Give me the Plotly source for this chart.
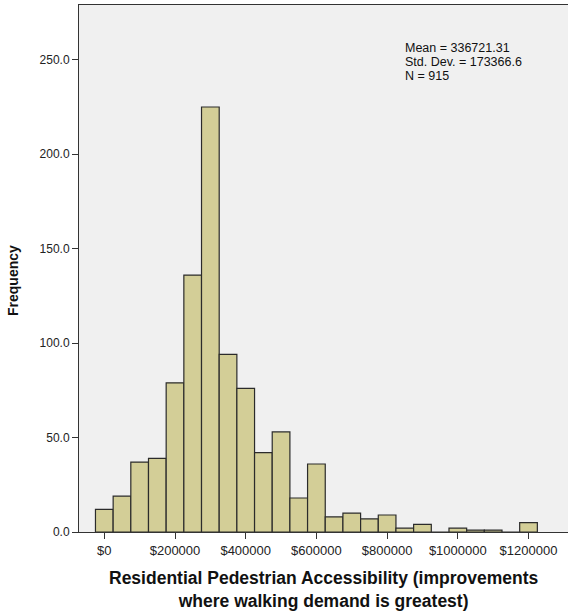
import plotly.graph_objects as go

# bin centres (width 50000) and counts
bin_centers = [0, 50000, 100000, 150000, 200000, 250000, 300000, 350000, 400000,
               450000, 500000, 550000, 600000, 650000, 700000, 750000, 800000,
               850000, 900000, 950000, 1000000, 1050000, 1100000, 1150000, 1200000]
counts = [12, 19, 37, 39, 79, 136, 225, 94, 76, 42, 53, 18, 36, 8, 10, 7, 9,
          2, 4, 0, 2, 1, 1, 0, 5]

x_ticks = [0, 200000, 400000, 600000, 800000, 1000000, 1200000]
x_tick_labels = ["$0", "$200000", "$400000", "$600000", "$800000", "$1000000", "$1200000"]
y_ticks = [0, 50, 100, 150, 200, 250]
y_tick_labels = ["0.0", "50.0", "100.0", "150.0", "200.0", "250.0"]

stats_lines = ["Mean = 336721.31", "Std. Dev. = 173366.6", "N = 915"]
x_title_lines = ["Residential Pedestrian Accessibility (improvements",
                 "where walking demand is greatest)"]

# plot area in pixels: left 79, right 568, top 5, bottom 532
PLOT_H = 527
PLOT_W = 489

fig = go.Figure(go.Bar(
    x=bin_centers,
    y=counts,
    width=50000,
    marker_color="#D3CE97",
    marker_line_color="#2b2b2b",
    marker_line_width=1.2,
))

fig.update_layout(
    width=568,
    height=611,
    margin=dict(l=79, r=0, t=5, b=79),
    paper_bgcolor="white",
    plot_bgcolor="#F0F0F0",
    font=dict(family="Liberation Sans, Arial, sans-serif", color="#222222"),
    showlegend=False,
)

fig.update_xaxes(
    range=[-71600, 1311700],
    tickvals=x_ticks,
    ticktext=x_tick_labels,
    tickfont_size=13,
    ticks="outside",
    ticklen=6,
    tickcolor="#333333",
    showgrid=False,
    zeroline=False,
    showline=True,
    linecolor="#333333",
    mirror=True,
)

fig.update_yaxes(
    range=[0, 279],
    tickvals=y_ticks,
    ticktext=y_tick_labels,
    tickfont_size=12,
    ticks="outside",
    ticklen=6,
    tickcolor="#333333",
    showgrid=False,
    zeroline=False,
    showline=True,
    linecolor="#333333",
)

# x axis title (two lines)
fig.add_annotation(
    text="<b>" + "<br>".join(x_title_lines) + "</b>",
    xref="paper", yref="paper",
    x=0.5, y=(532 - 589) / PLOT_H,
    xanchor="center", yanchor="middle",
    showarrow=False,
    font=dict(size=17.5, color="#111111"),
)

# y axis title
fig.add_annotation(
    text="<b>Frequency</b>",
    xref="paper", yref="paper",
    x=(13 - 79) / PLOT_W, y=(532 - 281) / PLOT_H,
    xanchor="center", yanchor="middle",
    textangle=-90,
    showarrow=False,
    font=dict(size=14, color="#111111"),
)

# summary statistics
for i, line in enumerate(stats_lines):
    y_px = 48 + i * 14
    fig.add_annotation(
        text=line,
        xref="paper", yref="paper",
        x=(403 - 79) / PLOT_W, y=(532 - y_px) / PLOT_H,
        xanchor="left", yanchor="middle",
        showarrow=False,
        font=dict(size=12.5, color="#111111"),
    )

fig.write_html("out.html", config={"displayModeBar": False},
               post_script="document.body.style.margin='0';")
